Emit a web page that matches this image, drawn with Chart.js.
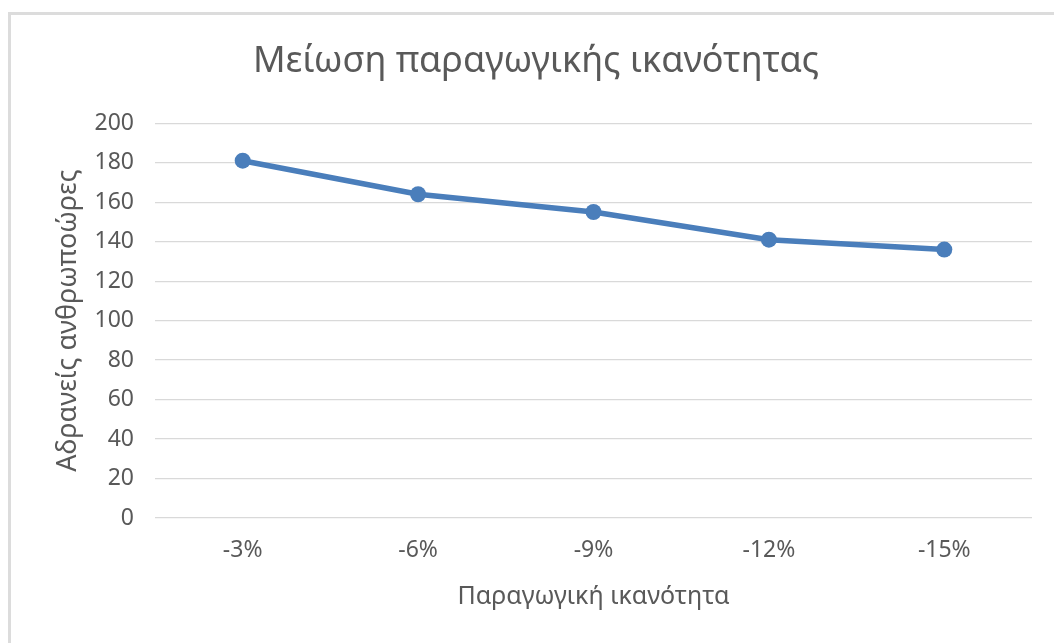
<!DOCTYPE html>
<html>
<head>
<meta charset="utf-8">
<title>Μείωση παραγωγικής ικανότητας</title>
<script src="https://cdn.jsdelivr.net/npm/chart.js@4/dist/chart.umd.min.js"></script>
<style>
  html, body { margin: 0; padding: 0; background: #fff; }
  #wrap { position: relative; width: 1054px; height: 643px; overflow: hidden; }
  /* light frame, only top and left edges are visible */
  #frame {
    position: absolute; left: 8px; top: 12px; width: 1200px; height: 800px;
    border-top: 3px solid #dcdcdc; border-left: 3px solid #dcdcdc;
  }
  #capacityChart { position: absolute; left: 0; top: 0; }
</style>
</head>
<body>
<div id="wrap">
  <div id="frame"></div>
  <canvas id="capacityChart" width="1054" height="643"></canvas>
</div>
<script>
const categories = ["-3%", "-6%", "-9%", "-12%", "-15%"];
const idleHours = [181, 164, 155, 141, 136];
const yTicks = [0, 20, 40, 60, 80, 100, 120, 140, 160, 180, 200];

const textColor = "#595959";
const fontFamily = "'Noto Sans', 'Open Sans', sans-serif";

const canvasElement = document.getElementById("capacityChart");

const capacityChart = new Chart(canvasElement, {
  type: "line",
  data: {
    labels: categories,
    datasets: [{
      data: idleHours,
      borderColor: "#4a7ebb",
      backgroundColor: "#4a7ebb",
      borderWidth: 5.5,
      pointRadius: 8,
      pointHoverRadius: 8,
      pointBorderWidth: 0,
      tension: 0,
      fill: false
    }]
  },
  options: {
    responsive: false,
    devicePixelRatio: 1,
    animation: false,
    events: [],
    layout: { padding: { left: 40, right: 22, top: 0, bottom: 0 } },
    plugins: {
      legend: { display: false },
      tooltip: { enabled: false },
      title: {
        display: true,
        text: "Μείωση παραγωγικής ικανότητας",
        color: textColor,
        font: { family: fontFamily, size: 36, weight: "normal", lineHeight: 1.2 },
        padding: { top: 40, bottom: 40 }
      }
    },
    scales: {
      x: {
        offset: true,
        grid: { display: false, drawTicks: false },
        border: { display: false },
        ticks: {
          color: textColor,
          padding: 19,
          maxRotation: 0,
          font: { family: fontFamily, size: 23 }
        },
        title: {
          display: true,
          text: "Παραγωγική ικανότητα",
          color: textColor,
          font: { family: fontFamily, size: 25, lineHeight: 1.2 },
          padding: { top: 0, bottom: 31 }
        },
        afterFit: (scale) => { scale.height = 125; }
      },
      y: {
        min: 0,
        max: 200,
        afterBuildTicks: (scale) => { scale.ticks = yTicks.map(v => ({ value: v })); },
        grid: { color: "#d9d9d9", lineWidth: 1.2, drawTicks: false },
        border: { display: false },
        ticks: {
          color: textColor,
          padding: 21,
          font: { family: fontFamily, size: 23 }
        },
        title: {
          display: true,
          text: "Αδρανείς ανθρωποώρες",
          color: textColor,
          font: { family: fontFamily, size: 27, lineHeight: 1.2 },
          padding: { top: 12, bottom: 0 }
        },
        afterFit: (scale) => { scale.width = 115; }
      }
    }
  }
});
</script>
</body>
</html>
